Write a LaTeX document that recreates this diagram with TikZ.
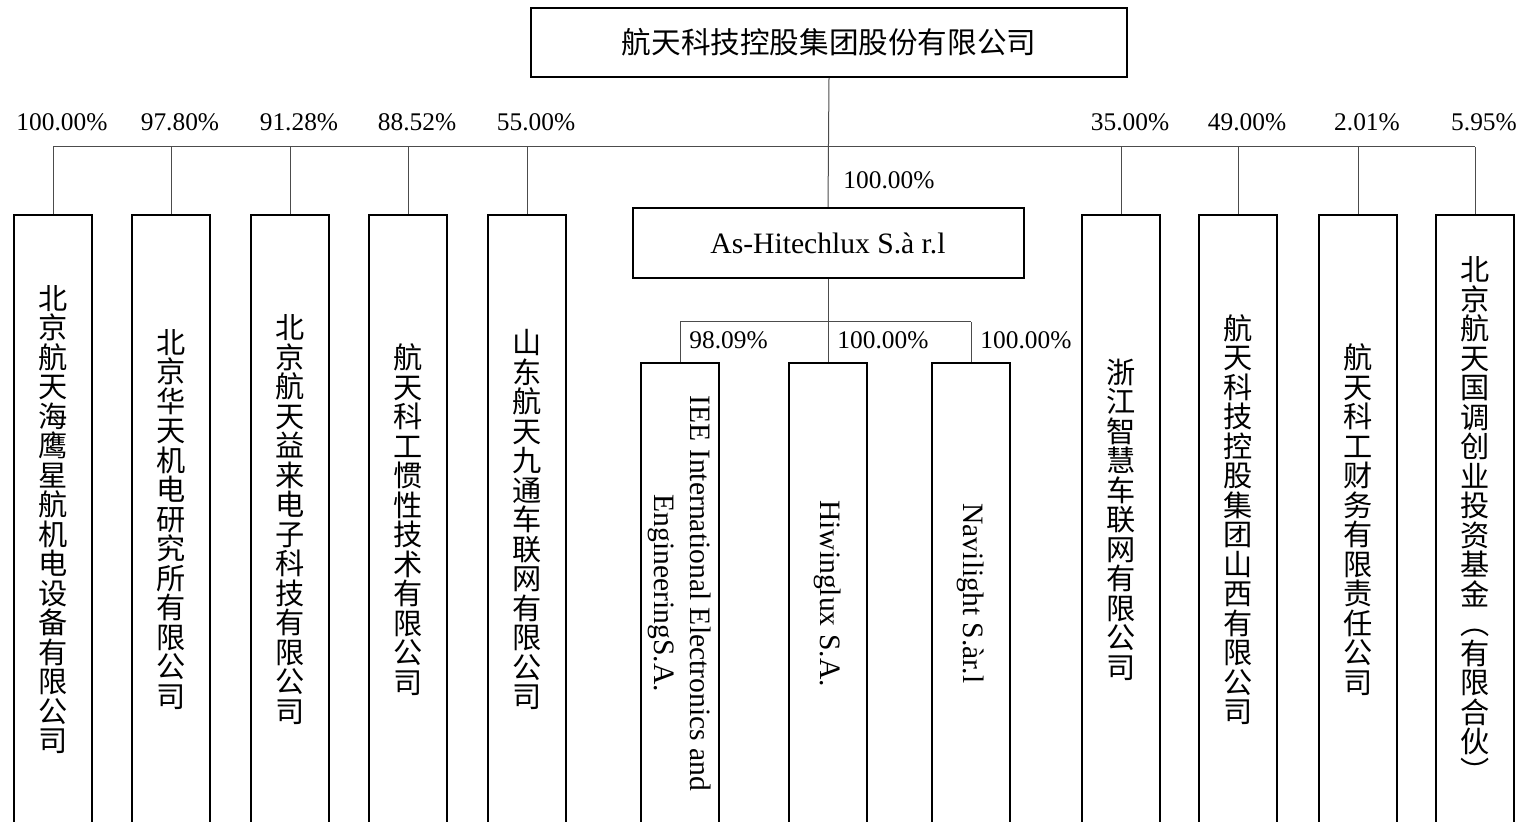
\documentclass[tikz,border=0pt]{standalone}
\usepackage{fontspec}
\usepackage{graphicx}
\setmainfont{Liberation Serif}
\newfontfamily\cjk{Noto Sans CJK SC}
\usetikzlibrary{calc}
\makeatletter
\newcommand\vtxt[1]{\vbox{\cjk\fontsize{14.6}{14.75}\selectfont\lineskiplimit=-\maxdimen
  \@tfor\vch:=#1\do{\hbox to 1.1em{\hss\vch\hss}}}}
\makeatother
\tikzset{
  corp/.style    = {draw, line width=1pt, inner sep=0pt},
  topbox/.style  = {corp, minimum width=298pt, minimum height=34.5pt,
                    font=\cjk\fontsize{14.8}{16}\selectfont},
  midbox/.style  = {corp, minimum width=195.5pt, minimum height=35pt,
                    font=\fontsize{14.8}{16}\selectfont},
  subbox/.style  = {corp, minimum width=39pt, minimum height=304.5pt},
  leafbox/.style = {corp, minimum width=39pt, minimum height=230.5pt,
                    font=\fontsize{14.8}{18}\selectfont},
  link/.style    = {draw=black!70, line width=0.5pt},
  pct/.style     = {inner sep=0pt, font=\fontsize{12.7}{14}\selectfont}
}

\begin{document}
\begin{tikzpicture}[x=0.5pt, y=-0.5pt]
 \path[use as bounding box] (0,0) rectangle (1526,822);
 \clip (0,0) rectangle (1526,822);

 \node[topbox] (top) at (829,42.5) {航天科技控股集团股份有限公司};
 \node[midbox] (hl) at (828,243) {As-Hitechlux S.à r.l};

 % direct holdings
 \node[subbox] (c1) at (53,519.5)   {\vtxt{北京航天海鹰星航机电设备有限公司}};
 \node[subbox] (c2) at (171,519.5)  {\vtxt{北京华天机电研究所有限公司}};
 \node[subbox] (c3) at (290,519.5)  {\vtxt{北京航天益来电子科技有限公司}};
 \node[subbox] (c4) at (408,519.5)  {\vtxt{航天科工惯性技术有限公司}};
 \node[subbox] (c5) at (527,519.5)  {\vtxt{山东航天九通车联网有限公司}};
 \node[subbox] (c6) at (1121,519.5) {\vtxt{浙江智慧车联网有限公司}};
 \node[subbox] (c7) at (1238,519.5) {\vtxt{航天科技控股集团山西有限公司}};
 \node[subbox] (c8) at (1358,519.5) {\vtxt{航天科工财务有限责任公司}};
 \node[subbox] (c9) at (1475,519.5) {\vtxt{北京航天国调创业投资基金︵有限合伙︶}};

 % held through As-Hitechlux
 \node[leafbox] (s1) at (680,593.5) {\rotatebox{-90}{\begin{tabular}{@{}c@{}}IEE International Electronics and\\EngineeringS.A.\end{tabular}}};
 \node[leafbox] (s2) at (828,593.5) {\rotatebox{-90}{Hiwinglux S.A.}};
 \node[leafbox] (s3) at (971,593.5) {\rotatebox{-90}{Navilight S.àr.l}};

 \coordinate (bus) at (0,147);
 \coordinate (sbus) at (0,322);

 \draw[link] (top.south) -- (hl.north);
 \draw[link] (c1.north |- bus) -- (c9.north |- bus);
 \node[pct, anchor=west] at ($(hl.north)+(15,-27)$) {100.00\%};
 \foreach \i/\p in {1/100.00\%, 2/97.80\%, 3/91.28\%, 4/88.52\%, 5/55.00\%,
                    6/35.00\%, 7/49.00\%, 8/2.01\%, 9/5.95\%}{
   \draw[link] (c\i.north) -- (c\i.north |- bus);
   \node[pct] at ($(c\i.north |- bus)+(9,-25)$) {\p};
 }

 \draw[link] (hl.south) -- (hl.south |- sbus);
 \draw[link] (s1.north |- sbus) -- (s3.north |- sbus);
 \foreach \i/\p in {1/98.09\%, 2/100.00\%, 3/100.00\%}{
   \draw[link] (s\i.north) -- (s\i.north |- sbus);
   \node[pct, anchor=west] at ($(s\i.north)+(9,-22)$) {\p};
 }
\end{tikzpicture}
\end{document}
